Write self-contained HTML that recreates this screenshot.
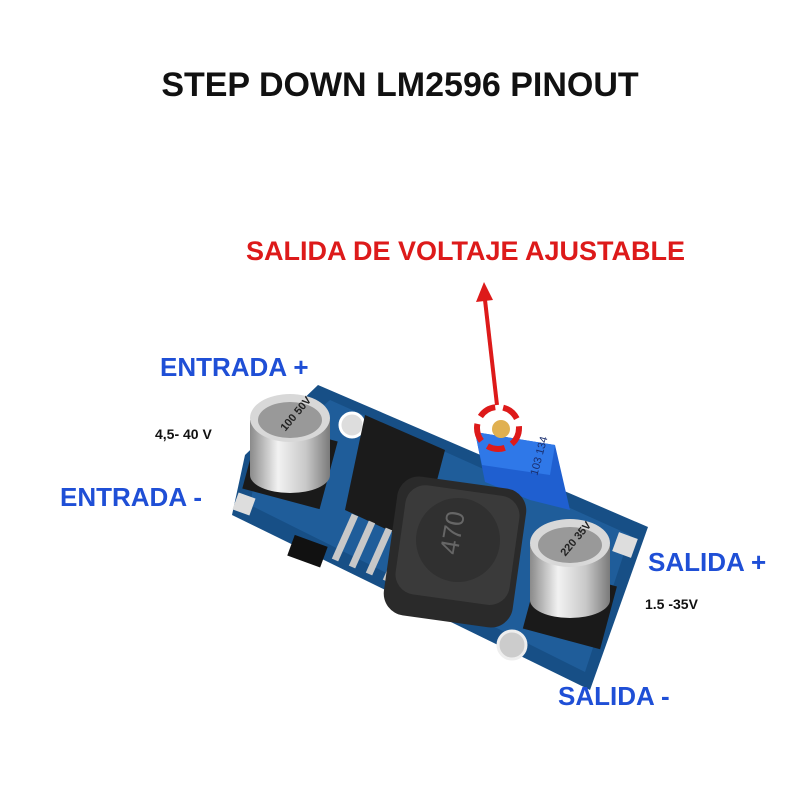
<!DOCTYPE html>
<html><head><meta charset="utf-8"><style>
body{margin:0;width:800px;height:800px;background:#fff;position:relative;overflow:hidden;font-family:"Liberation Sans",sans-serif}
.t{position:absolute;font-weight:bold;white-space:nowrap}
.b{color:#1f4fd6;font-size:26px}
.k{color:#111;font-size:14px}
</style></head><body>
<svg width="800" height="800" style="position:absolute;left:0;top:0">
<defs>
<linearGradient id="cap" x1="0" x2="1"><stop offset="0" stop-color="#8a8a8a"/><stop offset=".35" stop-color="#f2f2f2"/><stop offset=".7" stop-color="#c8c8c8"/><stop offset="1" stop-color="#7a7a7a"/></linearGradient>
</defs>
<polygon points="318,385 648,527 590,690 232,515 245,455" fill="#174f86"/>
<polygon points="330,400 630,535 585,672 250,505 258,462" fill="#2468a8" opacity=".6"/>
<circle cx="352" cy="425" r="12" fill="#ddd" stroke="#fff" stroke-width="3"/>
<circle cx="512" cy="645" r="14" fill="#ccc" stroke="#eee" stroke-width="3"/>
<rect x="615" y="535" width="20" height="20" fill="#ddd" transform="rotate(20 625 545)"/>
<rect x="235" y="495" width="18" height="18" fill="#ddd" transform="rotate(20 244 504)"/>
<!-- chip -->
<polygon points="365,415 445,450 420,545 345,510" fill="#1b1b1b"/>
<g stroke="#c8c8c8" stroke-width="7">
<line x1="355" y1="515" x2="335" y2="560"/><line x1="372" y1="522" x2="352" y2="567"/><line x1="389" y1="529" x2="369" y2="574"/><line x1="406" y1="536" x2="386" y2="581"/><line x1="423" y1="543" x2="403" y2="588"/>
</g>
<rect x="290" y="540" width="35" height="22" fill="#111" transform="rotate(20 307 551)"/>
<!-- left cap -->
<rect x="250" y="430" width="80" height="70" fill="#1a1a1a" transform="rotate(15 290 465)"/>
<path d="M250,420 L250,475 A40,18 0 0 0 330,475 L330,420 Z" fill="url(#cap)"/>
<ellipse cx="290" cy="418" rx="40" ry="24" fill="#d8d8d8"/>
<ellipse cx="290" cy="420" rx="32" ry="18" fill="#999"/>
<text x="278" y="424" font-size="11" font-weight="bold" fill="#222" transform="rotate(-50 290 420)" font-family="Liberation Sans,sans-serif">100 50V</text>
<!-- pot -->
<polygon points="475,432 555,445 570,510 530,500 485,482" fill="#1f5fd0"/>
<polygon points="475,432 555,445 550,475 482,465" fill="#2f78e8"/>
<text x="525" y="470" font-size="11" fill="#1a2f70" transform="rotate(-75 535 465)" font-family="Liberation Sans,sans-serif">103 134</text>
<circle cx="501" cy="429" r="9" fill="#e0b050"/>
<!-- inductor -->
<rect x="390" y="482" width="130" height="140" rx="22" fill="#2a2a2a" transform="rotate(8 455 552)"/>
<rect x="400" y="490" width="115" height="110" rx="20" fill="#3a3a3a" transform="rotate(8 457 545)"/>
<circle cx="458" cy="540" r="42" fill="#303030"/>
<text x="440" y="545" font-size="26" fill="#666" transform="rotate(-80 455 540)" font-family="Liberation Sans,sans-serif">470</text>
<!-- right cap -->
<rect x="530" y="575" width="80" height="65" fill="#1a1a1a" transform="rotate(15 570 607)"/>
<path d="M530,545 L530,600 A40,18 0 0 0 610,600 L610,545 Z" fill="url(#cap)"/>
<ellipse cx="570" cy="543" rx="40" ry="24" fill="#d8d8d8"/>
<ellipse cx="570" cy="545" rx="32" ry="18" fill="#999"/>
<text x="558" y="549" font-size="11" font-weight="bold" fill="#222" transform="rotate(-50 570 545)" font-family="Liberation Sans,sans-serif">220 35V</text>
<!-- red marker -->
<circle cx="498" cy="428" r="21" fill="none" stroke="#dd1a1a" stroke-width="6" stroke-dasharray="18 8"/>
<line x1="497" y1="405" x2="485" y2="300" stroke="#dd1a1a" stroke-width="4"/>
<polygon points="484,282 476,302 493,300" fill="#dd1a1a"/>
</svg>
<div class="t" style="left:0;width:800px;text-align:center;top:66px;font-size:34px;color:#111">STEP DOWN LM2596 PINOUT</div>
<div class="t" style="left:246px;top:236px;font-size:27px;color:#dd1a1a">SALIDA DE VOLTAJE AJUSTABLE</div>
<div class="t b" style="left:160px;top:352px">ENTRADA +</div>
<div class="t k" style="left:155px;top:426px">4,5- 40 V</div>
<div class="t b" style="left:60px;top:482px">ENTRADA -</div>
<div class="t b" style="left:648px;top:547px">SALIDA +</div>
<div class="t k" style="left:645px;top:596px">1.5 -35V</div>
<div class="t b" style="left:558px;top:681px">SALIDA -</div>
</body></html>
